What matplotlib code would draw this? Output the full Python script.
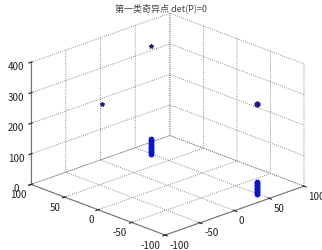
import numpy as np
import matplotlib
matplotlib.use('Agg')
from matplotlib import pyplot as plt

plt.rcParams['font.family'] = ['Noto Sans CJK SC', 'DejaVu Sans']
plt.rcParams['axes.unicode_minus'] = False
plt.rcParams['grid.linestyle'] = ':'
plt.rcParams['grid.color'] = '#666666'
plt.rcParams['grid.linewidth'] = 0.6

# isolated singular points (x, y, z)
x_pts = [49, 50, -95]
y_pts = [75, -82, 0]
z_pts = [354, 295, 341]
# vertical clusters near the floor
xa, ya = 49, 75
za = [0, 6, 12, 18, 24, 30, 36, 42, 49]
xb, yb = 50, -82
zb = [0, 5, 10, 15, 20, 25, 30, 35, 39]

xticks = [-100, -50, 0, 50, 100]
yticks = [-100, -50, 0, 50, 100]
zticks = [0, 100, 200, 300, 400]

fig = plt.figure(figsize=(3.22, 2.5), dpi=100)
ax = fig.add_subplot(111, projection='3d', proj_type='ortho')
ax.set_position([0.01, 0.0, 1.0, 0.98])

c1 = '#1a1a8c'
c2 = '#0a14c8'
ax.scatter(x_pts[0], y_pts[0], z_pts[0], marker='*', s=8, color=c1, depthshade=False)
ax.scatter(x_pts[1], y_pts[1], z_pts[1], marker='o', s=12, color=c1, depthshade=False)
ax.scatter(x_pts[2], y_pts[2], z_pts[2], marker='*', s=8, color=c1, depthshade=False)
ax.scatter([xa]*len(za), [ya]*len(za), za, marker='o', s=10, color=c2, depthshade=False)
ax.scatter([xb]*len(zb), [yb]*len(zb), zb, marker='o', s=10, color=c2, depthshade=False)

ax.set_xlim(-100, 100)
ax.set_ylim(-100, 100)
ax.set_zlim(0, 400)
ax.set_xticks(xticks)
ax.set_yticks(yticks)
ax.set_zticks(zticks)
ax.tick_params(labelsize=7, colors='#222222')
ax.tick_params(axis='x', pad=-5)
ax.tick_params(axis='y', pad=-5)
ax.tick_params(axis='z', pad=-3)
for lab in ax.get_xticklabels():
    lab.set_ha('left')
for lab in ax.get_yticklabels():
    lab.set_ha('right')
ax.view_init(elev=21.4, azim=-134)
ax.set_box_aspect((1, 1, 0.68), zoom=1.2)

for a in (ax.xaxis, ax.yaxis, ax.zaxis):
    a.set_pane_color((1, 1, 1, 1))
    a.pane.set_edgecolor('none')
    a.line.set_color('#777777')

fig.text(0.5, 0.985, '第一类奇异点 det(P)=0', fontsize=6.5, color='#444444',
         ha='center', va='top')

plt.savefig('out.png', dpi=100)
